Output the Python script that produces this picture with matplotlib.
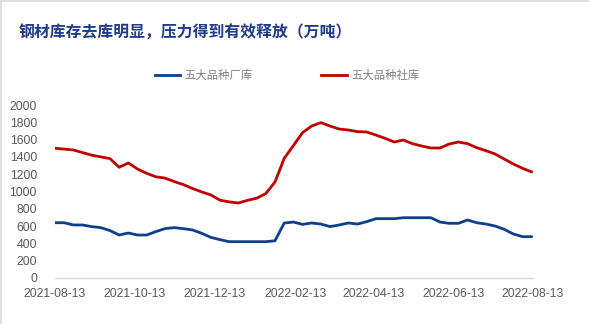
import matplotlib
matplotlib.use("Agg")
import matplotlib.pyplot as plt
import matplotlib.dates as mdates
import pandas as pd
from matplotlib.lines import Line2D

plt.rcParams['font.family'] = ['Liberation Sans', 'Noto Sans CJK SC', 'DejaVu Sans']

# Weekly inventory, 10k tonnes
start_date = "2021-08-13"
n_weeks = 53
factory_stock = [639, 639, 613, 613, 594, 582, 548, 497, 520, 497,
                 497, 536, 571, 582, 571, 555, 517, 470, 443, 420,
                 420, 420, 420, 420, 430, 635, 647, 620, 636, 624,
                 594, 613, 636, 624, 651, 686, 686, 686, 697, 697,
                 697, 697, 647, 632, 632, 671, 639, 624, 601, 563,
                 509, 478, 478]
social_stock = [1500, 1490, 1480, 1450, 1420, 1400, 1380, 1280, 1330, 1260,
                1210, 1170, 1155, 1115, 1080, 1035, 995, 960, 900, 880,
                867, 898, 922, 976, 1110, 1383, 1530, 1680, 1757, 1796,
                1757, 1722, 1711, 1692, 1688, 1653, 1615, 1572, 1595, 1553,
                1526, 1503, 1503, 1549, 1572, 1553, 1507, 1472, 1434, 1376,
                1318, 1268, 1226]
tick_dates = ["2021-08-13", "2021-10-13", "2021-12-13", "2022-02-13",
              "2022-04-13", "2022-06-13", "2022-08-13"]
series_names = ["五大品种厂库", "五大品种社库"]
title = "钢材库存去库明显，压力得到有效释放（万吨）"

dates = pd.date_range(start_date, periods=n_weeks, freq="7D")
ticks = pd.to_datetime(tick_dates)

W, H = 589, 324
fig = plt.figure(figsize=(W / 100, H / 100), dpi=100)
ax = fig.add_axes([55 / W, 1 - 278 / H, (533 - 55) / W, (278 - 105) / H])

blue = "#0E3F8C"
red = "#C00000"
ax.plot(dates, factory_stock, color=blue, lw=2.0, solid_capstyle="round")
ax.plot(dates, social_stock, color=red, lw=2.0, solid_capstyle="round")

ax.set_xlim(ticks[0], ticks[-1])
ax.set_ylim(0, 2000)
ax.set_yticks(range(0, 2001, 200))
ax.set_xticks(ticks)
ax.xaxis.set_major_formatter(mdates.DateFormatter("%Y-%m-%d"))

for side in ["top", "right", "left"]:
    ax.spines[side].set_visible(False)
ax.spines["bottom"].set_color("#D9D9D9")
ax.spines["bottom"].set_linewidth(1.0)
ax.tick_params(axis="both", length=0, labelsize=8.8, labelcolor="#595959")
ax.tick_params(axis="y", pad=13)
ax.tick_params(axis="x", pad=7)

# Title
fig.text(19 / W, 1 - 32 / H, title, fontsize=11.4, fontweight="bold",
         color="#1F3C88", family=["Noto Sans CJK SC"], va="center", ha="left")

# Legend
handles = [Line2D([], [], color=blue, lw=2.0), Line2D([], [], color=red, lw=2.0)]
fig.legend(handles, series_names, loc="center left",
           bbox_to_anchor=(145 / W, 1 - 75.5 / H), ncol=2, frameon=False,
           handlelength=2.2, handletextpad=0.4, columnspacing=6.0,
           prop={"family": ["Noto Sans CJK SC"], "size": 8.2},
           labelcolor="#808080")

# Frame edges on the left and top
fig.add_artist(Line2D([0.5 / W, 0.5 / W], [0, 1], color="#D9D9D9", lw=1.2,
                      transform=fig.transFigure))
fig.add_artist(Line2D([0, 1], [1 - 0.5 / H, 1 - 0.5 / H], color="#D9D9D9", lw=1.2,
                      transform=fig.transFigure))

fig.savefig("out.png", dpi=100, facecolor="white")
